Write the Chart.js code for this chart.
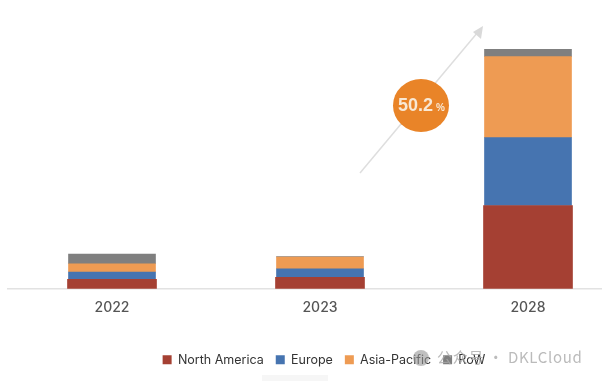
<!DOCTYPE html>
<html>
<head>
<meta charset="utf-8">
<style>
    html, body { margin: 0; padding: 0; background: #fff; overflow: hidden; }
    #wrap { position: relative; width: 602px; height: 381px; overflow: hidden; }
    canvas { filter: blur(0.4px); }
</style>
<script src="https://cdn.jsdelivr.net/npm/chart.js@4"></script>
</head>
<body>
<div id="wrap"><canvas id="myChart" width="640" height="381"></canvas></div>
<script>
const years = ['2022', '2023', '2028'];
const northAmerica = [9.3, 11.3, 83.3];
const europe = [7.4, 8.7, 68];
const asiaPacific = [8.3, 11.7, 81];
const row = [9.7, 0.5, 7.4];
const growthLabel = '50.2';
const watermark = '公众号 · DKLCloud';

// arrow, badge and watermark sit on top of the bars
const overlay = {
    id: 'overlay',
    afterDraw(chart) {
        const ctx = chart.ctx;
        ctx.save();

        ctx.strokeStyle = '#dedede';
        ctx.lineWidth = 1.5;
        ctx.beginPath();
        ctx.moveTo(360, 173);
        ctx.lineTo(478, 32);
        ctx.stroke();
        ctx.fillStyle = '#d9d9d9';
        ctx.beginPath();
        ctx.moveTo(483, 26);
        ctx.lineTo(481, 39);
        ctx.lineTo(473, 32);
        ctx.closePath();
        ctx.fill();

        ctx.fillStyle = '#e98428';
        ctx.beginPath();
        ctx.ellipse(421, 105.5, 28, 26.5, 0, 0, Math.PI * 2);
        ctx.fill();
        ctx.fillStyle = '#f8e8d4';
        ctx.textBaseline = 'alphabetic';
        ctx.font = '600 18px "Liberation Sans"';
        ctx.fillText(growthLabel, 398, 111);
        ctx.font = '600 10px "Liberation Sans"';
        ctx.fillText('%', 436, 111);

        ctx.fillStyle = 'rgba(150,150,150,0.6)';
        ctx.beginPath();
        ctx.arc(421, 358, 8, 0, Math.PI * 2);
        ctx.fill();
        ctx.font = '15px "Noto Sans CJK SC"';
        ctx.fillStyle = 'rgba(170,170,170,0.8)';
        ctx.letterSpacing = '0.7px';
        ctx.fillText(watermark, 437, 363);

        ctx.fillStyle = '#f6f6f6';
        ctx.fillRect(262, 375, 66, 6);
        ctx.restore();
    }
};

new Chart(document.getElementById('myChart'), {
    type: 'bar',
    data: {
        labels: years,
        datasets: [
            { label: 'North America', data: northAmerica, backgroundColor: '#a54033', barThickness: 89 },
            { label: 'Europe', data: europe, backgroundColor: '#4674b0', barThickness: 87 },
            { label: 'Asia-Pacific', data: asiaPacific, backgroundColor: '#ee9b53', barThickness: 87 },
            { label: 'RoW', data: row, backgroundColor: '#7f7f7f', barThickness: 87 }
        ]
    },
    options: {
        responsive: false,
        animation: false,
        layout: { padding: { left: 8, right: 0, top: 0, bottom: 5 } },
        plugins: {
            tooltip: { enabled: false },
            legend: {
                position: 'bottom',
                labels: {
                    boxWidth: 9,
                    boxHeight: 9,
                    padding: 12,
                    color: '#333',
                    font: { family: 'Inter', size: 12.5 }
                }
            }
        },
        scales: {
            x: {
                stacked: true,
                grid: { display: false },
                border: { color: '#e2e2e2', width: 1.5 },
                ticks: { color: '#555', padding: 3, font: { family: 'Inter', size: 14, weight: '500' } },
                afterFit(scale) { scale.height += 22; }
            },
            y: {
                stacked: true,
                position: 'right',
                min: 0,
                max: 289,
                grid: { display: false },
                border: { display: false },
                ticks: { display: false },
                afterFit(scale) { scale.width = 8; }
            }
        }
    },
    plugins: [overlay]
});
</script>
</body>
</html>
